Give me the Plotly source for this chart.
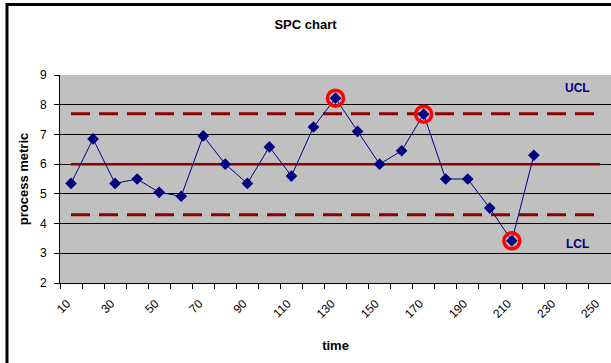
import plotly.graph_objects as go

# data
time = [10, 20, 30, 40, 50, 60, 70, 80, 90, 100, 110,
        120, 130, 140, 150, 160, 170, 180, 190, 200, 210, 220]
metric = [5.35, 6.85, 5.35, 5.5, 5.05, 4.92, 6.95, 6.0, 5.35, 6.58, 5.6,
          7.25, 8.22, 7.1, 6.0, 6.45, 7.68, 5.5, 5.5, 4.52, 3.42, 6.3]

limit_time = [10, 20, 30, 40, 50, 60, 70, 80, 90, 100, 110, 120, 130,
              140, 150, 160, 170, 180, 190, 200, 210, 220, 230, 240, 250]
center = 6.0
ucl = 7.7
lcl = 4.3

flagged = [130, 170, 210]

x_labels = [10, 30, 50, 70, 90, 110, 130, 150, 170, 190, 210, 230, 250]
y_ticks = [2, 3, 4, 5, 6, 7, 8, 9]

dark_red = '#8B0000'
navy = '#000080'
font = 'Arial, Liberation Sans, sans-serif'

fig = go.Figure()

fig.add_trace(go.Scatter(x=limit_time, y=[ucl] * len(limit_time), mode='lines',
                         line=dict(color=dark_red, width=3, dash='19px,9px'), name='UCL'))
fig.add_trace(go.Scatter(x=limit_time, y=[center] * len(limit_time), mode='lines',
                         line=dict(color=dark_red, width=2.5), name='mean'))
fig.add_trace(go.Scatter(x=limit_time, y=[lcl] * len(limit_time), mode='lines',
                         line=dict(color=dark_red, width=3, dash='19px,9px'), name='LCL'))

fig.add_trace(go.Scatter(x=time, y=metric, mode='lines+markers',
                         line=dict(color=navy, width=1),
                         marker=dict(symbol='diamond', size=9, color=navy),
                         name='process metric'))

flag_y = [metric[time.index(t)] for t in flagged]
fig.add_trace(go.Scatter(x=flagged, y=flag_y, mode='markers',
                         marker=dict(symbol='circle-open', size=16, color='#FF0000',
                                     line=dict(width=3.5, color='#FF0000')),
                         name='out of control'))

fig.add_annotation(x=240, y=8.55, text='<b>UCL</b>', showarrow=False,
                   font=dict(family=font, size=12, color=navy))
fig.add_annotation(x=240, y=3.3, text='<b>LCL</b>', showarrow=False,
                   font=dict(family=font, size=12, color=navy))

# outer chart frame (right and bottom edges are cut off in the original)
fig.add_shape(type='rect', xref='paper', yref='paper',
              x0=-0.0962, x1=1.1, y0=-0.6, y1=1.339,
              line=dict(color='black', width=3))

fig.update_layout(
    width=611, height=363,
    margin=dict(l=60, r=0, t=75, b=80),
    paper_bgcolor='white',
    plot_bgcolor='#C0C0C0',
    showlegend=False,
    font=dict(family=font, size=12, color='black'),
    title=dict(text='<b>SPC chart</b>', x=0.5, xref='container', xanchor='center',
               y=0.934, yanchor='middle', font=dict(size=13, family=font)),
    xaxis=dict(
        range=[5, 255], tickvals=x_labels, ticktext=[str(v) for v in x_labels],
        tickangle=-45, ticks='', showgrid=False, zeroline=False, automargin=False,
        showline=True, linecolor='black', linewidth=1,
        tickfont=dict(size=12, family=font),
        ticklabelstandoff=8, ticklabelshift=-4,
        minor=dict(ticks='outside', tick0=5, dtick=10, ticklen=5,
                   tickcolor='black', showgrid=False),
        title=dict(text='<b>time</b>', font=dict(size=13, family=font), standoff=20),
    ),
    yaxis=dict(
        range=[2, 9], tickvals=y_ticks, ticks='outside', ticklen=5, tickcolor='black',
        showgrid=True, gridcolor='black', gridwidth=1, zeroline=False, automargin=False,
        showline=True, linecolor='black', linewidth=1,
        tickfont=dict(size=12, family=font), ticklabelstandoff=5,
        title=dict(text='<b>process metric</b>', font=dict(size=13, family=font), standoff=8),
    ),
)

# page body has an 8px default margin; drop it so the chart sits at the window edge
fig.write_html("out.html", config={'displayModeBar': False},
               post_script="document.body.style.margin = '0';")
